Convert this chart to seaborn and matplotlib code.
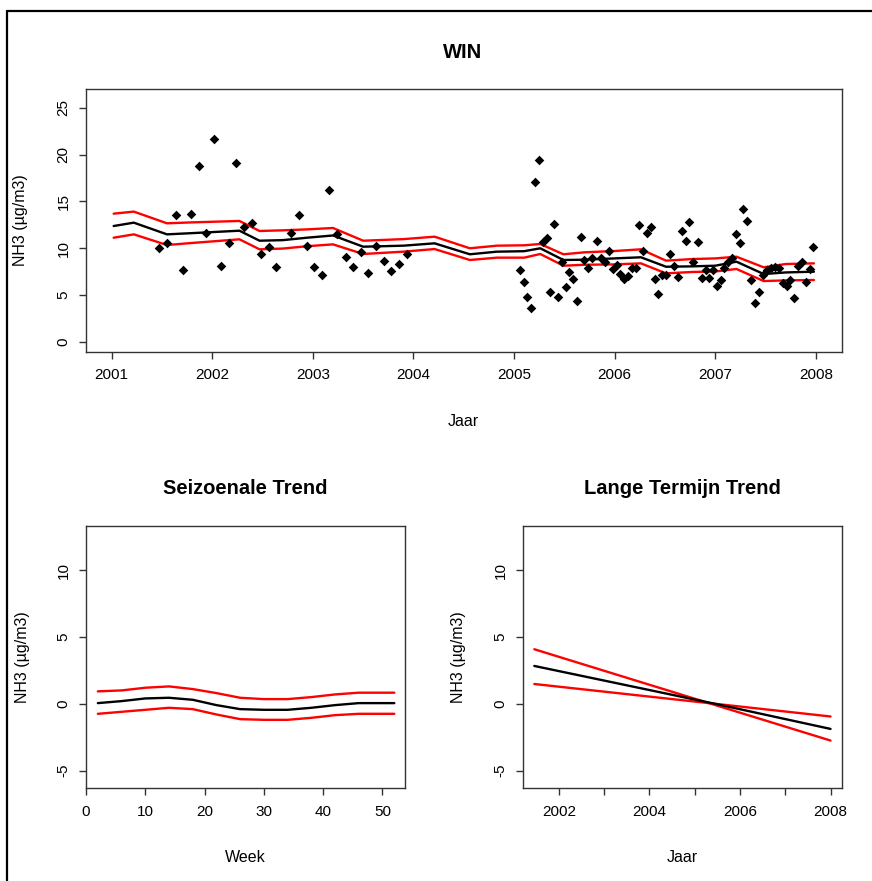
import matplotlib
matplotlib.use("Agg")
import matplotlib.pyplot as plt
from matplotlib.lines import Line2D
import numpy as np
import pandas as pd
import seaborn as sns

# ---------------- data ----------------
# measured NH3 concentrations (decimal year, ug/m3)
obs_year = [
    2001.470, 2001.547, 2001.636, 2001.712, 2001.788, 2001.865, 2001.937, 2002.014,
    2002.090, 2002.166, 2002.239, 2002.315, 2002.395, 2002.481, 2002.561, 2002.633,
    2002.782, 2002.859, 2002.938, 2003.014, 2003.087, 2003.160, 2003.237, 2003.326,
    2003.402, 2003.481, 2003.551, 2003.627, 2003.704, 2003.775, 2003.859, 2003.932,
    2005.056, 2005.096, 2005.131, 2005.171, 2005.205, 2005.245, 2005.290, 2005.324,
    2005.360, 2005.397, 2005.436, 2005.479, 2005.513, 2005.549, 2005.589, 2005.625,
    2005.662, 2005.698, 2005.738, 2005.778, 2005.827, 2005.864, 2005.904, 2005.943,
    2005.980, 2006.020, 2006.053, 2006.092, 2006.129, 2006.169, 2006.209, 2006.242,
    2006.284, 2006.318, 2006.358, 2006.398, 2006.434, 2006.473, 2006.510, 2006.550,
    2006.587, 2006.626, 2006.672, 2006.706, 2006.739, 2006.781, 2006.828, 2006.865,
    2006.905, 2006.940, 2006.980, 2007.014, 2007.054, 2007.090, 2007.129, 2007.169,
    2007.203, 2007.243, 2007.275, 2007.318, 2007.355, 2007.395, 2007.431, 2007.471,
    2007.511, 2007.551, 2007.593, 2007.633, 2007.670, 2007.710, 2007.743, 2007.785,
    2007.822, 2007.862, 2007.899, 2007.938, 2007.974,
]
obs_nh3 = [
    9.98, 10.58, 13.50, 7.66, 13.64, 18.80, 11.61, 21.66,
    8.05, 10.51, 19.09, 12.22, 12.65, 9.40, 10.15, 7.95,
    11.58, 13.50, 10.26, 7.95, 7.09, 16.21, 11.51, 9.02,
    7.95, 9.62, 7.37, 10.26, 8.65, 7.55, 8.33, 9.40,
    7.69, 6.41, 4.81, 3.60, 17.03, 19.44, 10.68, 11.11,
    5.34, 12.54, 4.81, 8.55, 5.88, 7.48, 6.67, 4.38,
    11.19, 8.76, 7.91, 8.91, 10.79, 8.91, 8.55, 9.72,
    7.77, 8.19, 7.23, 6.67, 7.02, 7.91, 7.91, 12.47,
    9.72, 11.58, 12.29, 6.70, 5.06, 7.13, 7.13, 9.34,
    8.09, 6.95, 11.86, 10.76, 12.82, 8.55, 10.65, 6.84,
    7.66, 6.84, 7.66, 5.98, 6.59, 7.91, 8.55, 8.97,
    11.51, 10.51, 14.21, 12.93, 6.59, 4.10, 5.34, 7.13,
    7.66, 7.84, 8.01, 7.91, 6.24, 5.98, 6.59, 4.64,
    8.12, 8.48, 6.41, 7.77, 10.09,
]

# fitted model with confidence band
fit_year = [2001.02, 2001.22, 2001.55, 2001.80, 2002.27, 2002.47, 2002.70, 2002.94,
            2003.20, 2003.50, 2003.90, 2004.21, 2004.56, 2004.83, 2005.10, 2005.26,
            2005.49, 2005.70, 2006.00, 2006.26, 2006.51, 2006.77, 2007.00, 2007.21,
            2007.48, 2007.70, 2007.98]
fit_mid = [12.36, 12.72, 11.47, 11.60, 11.86, 10.79, 10.85, 11.11,
           11.35, 10.15, 10.26, 10.51, 9.34, 9.62, 9.67, 9.98,
           8.73, 8.76, 8.90, 9.02, 8.01, 8.05, 8.12, 8.55,
           7.23, 7.40, 7.48]
fit_hi = [13.68, 13.90, 12.65, 12.75, 12.90, 11.83, 11.90, 12.00,
          12.15, 10.79, 10.96, 11.22, 9.98, 10.26, 10.30, 10.44,
          9.34, 9.55, 9.69, 9.87, 8.66, 8.83, 8.90, 9.08,
          7.95, 8.30, 8.37]
fit_lo = [11.11, 11.47, 10.33, 10.55, 10.94, 9.87, 9.95, 10.20,
          10.40, 9.37, 9.62, 9.90, 8.73, 8.98, 8.98, 9.37,
          8.12, 8.22, 8.26, 8.37, 7.30, 7.45, 7.50, 7.77,
          6.48, 6.55, 6.59]

# seasonal component
season_week = [2, 6, 10, 14, 18, 22, 26, 30, 34, 38, 42, 46, 52]
season_mid = [0.05, 0.20, 0.40, 0.45, 0.30, -0.10, -0.40, -0.45, -0.45, -0.30, -0.10, 0.05, 0.05]
season_hi = [0.93, 1.00, 1.20, 1.30, 1.10, 0.80, 0.45, 0.35, 0.35, 0.50, 0.70, 0.83, 0.83]
season_lo = [-0.75, -0.60, -0.45, -0.30, -0.40, -0.80, -1.15, -1.20, -1.20, -1.05, -0.85, -0.75, -0.75]

# long term trend component
trend_year = [2001.46, 2005.45, 2008.00]
trend_mid = [2.83, 0.00, -1.88]
trend_hi = [4.08, -0.09, -2.75]
trend_lo = [1.48, 0.00, -0.95]

top_xticks = [2001, 2002, 2003, 2004, 2005, 2006, 2007, 2008]
top_yticks = [0, 5, 10, 15, 20, 25]
comp_yticks = [-5, 0, 5, 10]
week_ticks = [0, 10, 20, 30, 40, 50]
trend_ticks = [2002, 2003, 2004, 2005, 2006, 2007, 2008]
trend_labels = ["2002", "", "2004", "", "2006", "", "2008"]

ylabel = "NH3 (\u00b5g/m3)"

# ---------------- style ----------------
sns.set_style("ticks")
plt.rcParams["font.family"] = ["Liberation Sans", "DejaVu Sans"]
plt.rcParams["text.color"] = "black"

W, H = 872, 881
fig = plt.figure(figsize=(W / 100, H / 100), dpi=100)
fig.patch.set_facecolor("white")

SPINE = "#333333"
RED = "#ff0000"
LW = 1.7


def px_axes(left, top, right, bottom):
    return fig.add_axes([left / W, 1 - bottom / H, (right - left) / W, (bottom - top) / H])


def style(ax):
    for s in ax.spines.values():
        s.set_visible(True)
        s.set_color(SPINE)
        s.set_linewidth(1.0)
    ax.tick_params(axis="both", direction="out", length=5, width=1.0,
                   color=SPINE, labelsize=11, labelcolor="black")
    ax.tick_params(axis="x", pad=7)
    ax.tick_params(axis="y", pad=6, labelrotation=90)
    for lab in ax.get_yticklabels():
        lab.set_verticalalignment("center")
    ax.set_xlabel("")
    ax.set_ylabel("")
    ax.grid(False)


def band(ax, x, mid, hi, lo):
    sns.lineplot(x=x, y=hi, color=RED, lw=LW, ax=ax, estimator=None, sort=False)
    sns.lineplot(x=x, y=lo, color=RED, lw=LW, ax=ax, estimator=None, sort=False)
    sns.lineplot(x=x, y=mid, color="black", lw=LW, ax=ax, estimator=None, sort=False)


def ftext(x, y, s, **kw):
    fig.text(x / W, 1 - y / H, s, ha="center", va="center", color="black", **kw)


# ---------------- top panel ----------------
ax1 = px_axes(86, 89.3, 841.7, 351.7)
sns.scatterplot(x=obs_year, y=obs_nh3, marker="D", s=24, color="black",
                linewidth=0, ax=ax1, zorder=3)
band(ax1, fit_year, fit_mid, fit_hi, fit_lo)
ax1.set_xlim(2000.745, 2008.256)
ax1.set_ylim(-1.07, 26.97)
ax1.set_xticks(top_xticks)
ax1.set_xticklabels([str(t) for t in top_xticks])
ax1.set_yticks(top_yticks)
ax1.set_yticklabels([str(t) for t in top_yticks])
style(ax1)

ftext(463, 52, "WIN", fontsize=14.5, fontweight="bold")
ftext(463, 421, "Jaar", fontsize=11.5)
ftext(20, 220, ylabel, fontsize=11.5, rotation=90)

# ---------------- seasonal panel ----------------
ax2 = px_axes(86, 526, 405, 788)
band(ax2, season_week, season_mid, season_hi, season_lo)
ax2.set_xlim(0, 53.8)
ax2.set_ylim(-6.3, 13.3)
ax2.set_xticks(week_ticks)
ax2.set_xticklabels([str(t) for t in week_ticks])
ax2.set_yticks(comp_yticks)
ax2.set_yticklabels([str(t) for t in comp_yticks])
style(ax2)

ftext(245, 489, "Seizoenale Trend", fontsize=14.5, fontweight="bold")
ftext(245, 858, "Week", fontsize=11.5)
ftext(22, 657, ylabel, fontsize=11.5, rotation=90)

# ---------------- long term trend panel ----------------
ax3 = px_axes(523, 526, 842.3, 788)
band(ax3, trend_year, trend_mid, trend_hi, trend_lo)
ax3.set_xlim(2001.21, 2008.26)
ax3.set_ylim(-6.3, 13.3)
ax3.set_xticks(trend_ticks)
ax3.set_xticklabels(trend_labels)
ax3.set_yticks(comp_yticks)
ax3.set_yticklabels([str(t) for t in comp_yticks])
style(ax3)

ftext(682, 489, "Lange Termijn Trend", fontsize=14.5, fontweight="bold")
ftext(682, 858, "Jaar", fontsize=11.5)
ftext(458, 657, ylabel, fontsize=11.5, rotation=90)

# outer frame lines (top and left)
fig.add_artist(Line2D([7 / W, 1], [1 - 11 / H, 1 - 11 / H], transform=fig.transFigure,
                      color="black", lw=1.6))
fig.add_artist(Line2D([7 / W, 7 / W], [0, 1 - 11 / H], transform=fig.transFigure,
                      color="black", lw=1.6))

fig.savefig("out.png", dpi=100)
